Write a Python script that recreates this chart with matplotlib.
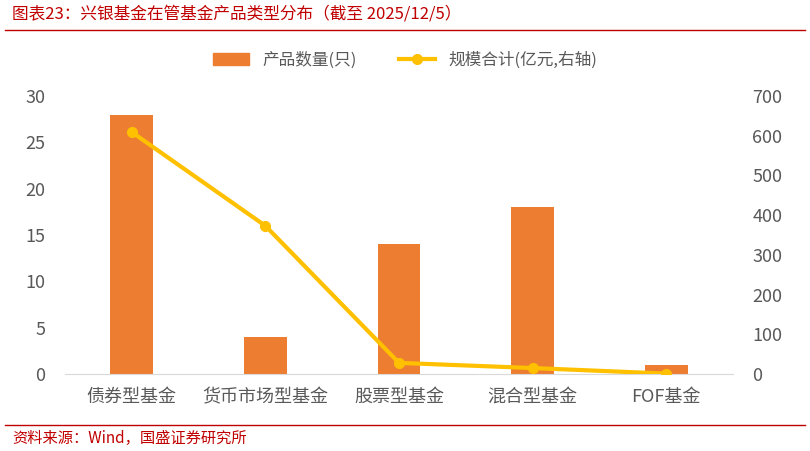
import matplotlib
matplotlib.use("Agg")
import matplotlib.pyplot as plt
from matplotlib.lines import Line2D

plt.rcParams['font.family'] = ['Noto Sans CJK SC', 'DejaVu Sans']

categories = ['债券型基金', '货币市场型基金', '股票型基金', '混合型基金', 'FOF基金']
counts = [28, 4, 14, 18, 1]
scale = [609, 373, 28, 15, 1]
left_ticks = [0, 5, 10, 15, 20, 25, 30]
right_ticks = [0, 100, 200, 300, 400, 500, 600, 700]

bar_color = '#ED7D31'
line_color = '#FFC000'
text_color = '#595959'
red = '#C00000'

fig = plt.figure(figsize=(8.1, 4.51), dpi=100)
ax = fig.add_axes([65/810, 1-374/451, (733-65)/810, (374-96)/451])
x = list(range(len(categories)))
bars = ax.bar(x, counts, width=0.32, color=bar_color, zorder=2)
ax.set_ylim(0, 30)
ax.set_xlim(-0.5, len(categories)-0.5)
ax.set_yticks(left_ticks)
ax.set_xticks(x)
ax.set_xticklabels(categories)
for s in ['top', 'right', 'left']:
    ax.spines[s].set_visible(False)
ax.spines['bottom'].set_color('#D9D9D9')
ax.tick_params(axis='both', length=0, colors=text_color, labelsize=13)
ax.tick_params(axis='x', pad=10)
ax.tick_params(axis='y', pad=14)

ax2 = ax.twinx()
ax2.plot(x, scale, color=line_color, lw=3, marker='o', ms=7, zorder=3)
ax2.set_ylim(0, 700)
ax2.set_yticks(right_ticks)
for s in ax2.spines.values():
    s.set_visible(False)
ax2.tick_params(axis='y', length=0, colors=text_color, labelsize=13, pad=14)

handles = [plt.Rectangle((0, 0), 1, 1, color=bar_color),
           Line2D([0], [0], color=line_color, lw=3, marker='o', ms=7)]
fig.legend(handles, ['产品数量(只)', '规模合计(亿元,右轴)'], loc='center',
           bbox_to_anchor=(405/810, 1-60/451), ncol=2, frameon=False,
           fontsize=12, labelcolor=text_color, handlelength=2.2, columnspacing=2.5)

fig.text(12/810, 1-14/451, '图表23：兴银基金在管基金产品类型分布（截至 2025/12/5）',
         color=red, fontsize=12, style='italic', va='center', ha='left')
fig.add_artist(Line2D([5/810, 805/810], [1-30/451, 1-30/451], color=red, lw=1))
fig.add_artist(Line2D([5/810, 805/810], [1-425/451, 1-425/451], color=red, lw=1))
fig.text(12/810, 1-438/451, '资料来源：Wind，国盛证券研究所', color=red,
         fontsize=11, style='italic', va='center', ha='left')

fig.savefig('out.png', dpi=100)
